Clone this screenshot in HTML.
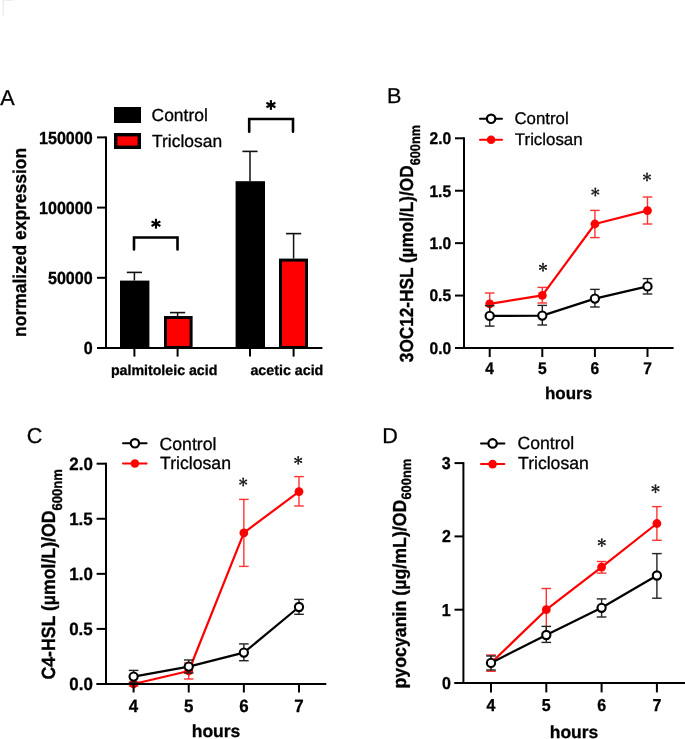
<!DOCTYPE html>
<html><head><meta charset="utf-8"><style>
html,body{margin:0;padding:0;background:#fff;}
svg{display:block;will-change:transform;}
text{font-family:"Liberation Sans",sans-serif;text-rendering:geometricPrecision;stroke:#000;stroke-width:0.3px;}
</style></head><body>
<svg width="685" height="739" viewBox="0 0 685 739" font-family="Liberation Sans, sans-serif">
<rect width="685" height="739" fill="#fff"/>
<line x1="3.20" y1="0.00" x2="3.20" y2="15.50" stroke="#e4e4e4" stroke-width="1.0" stroke-linecap="butt"/>
<line x1="3.20" y1="0.50" x2="13.50" y2="0.50" stroke="#eeeeee" stroke-width="1.0" stroke-linecap="butt"/>
<text x="0.21" y="104.80" font-size="21.60" font-weight="normal" fill="#000">A</text>
<rect x="114.00" y="107.00" width="27.00" height="16.00" fill="#000"/>
<rect x="115.70" y="134.70" width="23.60" height="12.60" fill="#ff0000" stroke="#000" stroke-width="3.4"/>
<text x="151.56" y="120.90" font-size="17.45" font-weight="normal" fill="#000">Control</text>
<text x="152.06" y="146.60" font-size="17.45" font-weight="normal" fill="#000">Triclosan</text>
<rect x="120.00" y="280.60" width="29.40" height="67.40" fill="#000"/>
<rect x="235.60" y="181.20" width="29.40" height="166.80" fill="#000"/>
<rect x="165.50" y="317.50" width="25.60" height="30.00" fill="#ff0000" stroke="#000" stroke-width="3.0"/>
<rect x="280.50" y="260.10" width="26.00" height="87.40" fill="#ff0000" stroke="#000" stroke-width="3.0"/>
<line x1="106.00" y1="136.40" x2="106.00" y2="349.00" stroke="#000" stroke-width="2" stroke-linecap="butt"/>
<line x1="97.00" y1="348.00" x2="322.40" y2="348.00" stroke="#000" stroke-width="2" stroke-linecap="butt"/>
<line x1="97.00" y1="277.80" x2="106.00" y2="277.80" stroke="#000" stroke-width="2" stroke-linecap="butt"/>
<line x1="97.00" y1="207.60" x2="106.00" y2="207.60" stroke="#000" stroke-width="2" stroke-linecap="butt"/>
<line x1="97.00" y1="137.40" x2="106.00" y2="137.40" stroke="#000" stroke-width="2" stroke-linecap="butt"/>
<line x1="134.40" y1="348.00" x2="134.40" y2="356.60" stroke="#000" stroke-width="2" stroke-linecap="butt"/>
<line x1="177.60" y1="348.00" x2="177.60" y2="356.60" stroke="#000" stroke-width="2" stroke-linecap="butt"/>
<line x1="250.00" y1="348.00" x2="250.00" y2="356.60" stroke="#000" stroke-width="2" stroke-linecap="butt"/>
<line x1="293.60" y1="348.00" x2="293.60" y2="356.60" stroke="#000" stroke-width="2" stroke-linecap="butt"/>
<text transform="translate(83.76,354.20) scale(1,1.090)" x="0" y="0" font-size="16.10" font-weight="bold" fill="#000">0</text>
<text transform="translate(47.94,284.00) scale(1,1.090)" x="0" y="0" font-size="16.10" font-weight="bold" fill="#000">50000</text>
<text transform="translate(38.99,213.80) scale(1,1.090)" x="0" y="0" font-size="16.10" font-weight="bold" fill="#000">100000</text>
<text transform="translate(38.99,143.60) scale(1,1.090)" x="0" y="0" font-size="16.10" font-weight="bold" fill="#000">150000</text>
<line x1="134.40" y1="280.60" x2="134.40" y2="272.40" stroke="#111" stroke-width="1.5" stroke-linecap="butt"/>
<line x1="126.80" y1="272.40" x2="142.00" y2="272.40" stroke="#111" stroke-width="1.6" stroke-linecap="butt"/>
<line x1="177.60" y1="316.00" x2="177.60" y2="312.60" stroke="#111" stroke-width="1.5" stroke-linecap="butt"/>
<line x1="170.00" y1="312.60" x2="185.20" y2="312.60" stroke="#111" stroke-width="1.6" stroke-linecap="butt"/>
<line x1="250.00" y1="181.20" x2="250.00" y2="151.40" stroke="#111" stroke-width="1.5" stroke-linecap="butt"/>
<line x1="242.40" y1="151.40" x2="257.60" y2="151.40" stroke="#111" stroke-width="1.6" stroke-linecap="butt"/>
<line x1="293.60" y1="258.60" x2="293.60" y2="233.60" stroke="#111" stroke-width="1.5" stroke-linecap="butt"/>
<line x1="286.00" y1="233.60" x2="301.20" y2="233.60" stroke="#111" stroke-width="1.6" stroke-linecap="butt"/>
<polyline points="134.00,249.50 134.00,237.50 177.50,237.50 177.50,249.50" fill="none" stroke="#000" stroke-width="2.6" stroke-linejoin="miter" stroke-linecap="round"/>
<polyline points="249.20,131.70 249.20,119.00 293.00,119.00 293.00,131.70" fill="none" stroke="#000" stroke-width="2.6" stroke-linejoin="miter" stroke-linecap="round"/>
<g stroke="#000" stroke-width="2.1" stroke-linecap="butt"><line x1="155.95" y1="218.75" x2="155.95" y2="228.65"/><line x1="151.54" y1="221.35" x2="160.36" y2="226.05"/><line x1="151.54" y1="226.05" x2="160.36" y2="221.35"/></g>
<g stroke="#000" stroke-width="2.1" stroke-linecap="butt"><line x1="270.90" y1="100.10" x2="270.90" y2="109.90"/><line x1="266.41" y1="102.81" x2="275.39" y2="107.19"/><line x1="266.41" y1="107.19" x2="275.39" y2="102.81"/></g>
<text x="110.91" y="374.80" font-size="14.20" font-weight="bold" fill="#000">palmitoleic acid</text>
<text x="250.43" y="375.20" font-size="14.25" font-weight="bold" fill="#000">acetic acid</text>
<text transform="translate(25.60,336.90) rotate(-90) scale(1,1.060)" x="0" y="0" font-weight="bold" font-size="17.45" fill="#000"><tspan font-size="17.45">normalized expression</tspan></text>
<text x="387.08" y="102.80" font-size="21.60" font-weight="normal" fill="#000">B</text>
<line x1="480.00" y1="118.80" x2="502.00" y2="118.80" stroke="#000" stroke-width="2.0" stroke-linecap="round"/>
<circle cx="491.10" cy="118.80" r="4.20" fill="#fff" stroke="#000" stroke-width="2.2"/>
<line x1="480.00" y1="139.80" x2="502.00" y2="139.80" stroke="#ff0000" stroke-width="2.0" stroke-linecap="round"/>
<circle cx="491.10" cy="139.80" r="4.30" fill="#ff0000"/>
<text x="514.39" y="124.40" font-size="16.85" font-weight="normal" fill="#000">Control</text>
<text x="514.87" y="145.00" font-size="16.85" font-weight="normal" fill="#000">Triclosan</text>
<line x1="489.70" y1="293.00" x2="489.70" y2="314.60" stroke="#ff3333" stroke-width="1.4" stroke-linecap="butt"/>
<line x1="484.90" y1="293.00" x2="494.50" y2="293.00" stroke="#ff3333" stroke-width="1.4" stroke-linecap="butt"/>
<line x1="484.90" y1="314.60" x2="494.50" y2="314.60" stroke="#ff3333" stroke-width="1.4" stroke-linecap="butt"/>
<line x1="542.30" y1="287.40" x2="542.30" y2="303.00" stroke="#ff3333" stroke-width="1.4" stroke-linecap="butt"/>
<line x1="537.50" y1="287.40" x2="547.10" y2="287.40" stroke="#ff3333" stroke-width="1.4" stroke-linecap="butt"/>
<line x1="537.50" y1="303.00" x2="547.10" y2="303.00" stroke="#ff3333" stroke-width="1.4" stroke-linecap="butt"/>
<line x1="594.90" y1="210.40" x2="594.90" y2="237.60" stroke="#ff3333" stroke-width="1.4" stroke-linecap="butt"/>
<line x1="590.10" y1="210.40" x2="599.70" y2="210.40" stroke="#ff3333" stroke-width="1.4" stroke-linecap="butt"/>
<line x1="590.10" y1="237.60" x2="599.70" y2="237.60" stroke="#ff3333" stroke-width="1.4" stroke-linecap="butt"/>
<line x1="647.50" y1="197.00" x2="647.50" y2="224.00" stroke="#ff3333" stroke-width="1.4" stroke-linecap="butt"/>
<line x1="642.70" y1="197.00" x2="652.30" y2="197.00" stroke="#ff3333" stroke-width="1.4" stroke-linecap="butt"/>
<line x1="642.70" y1="224.00" x2="652.30" y2="224.00" stroke="#ff3333" stroke-width="1.4" stroke-linecap="butt"/>
<polyline points="489.70,303.80 542.30,295.40 594.90,224.00 647.50,210.60" fill="none" stroke="#ff0000" stroke-width="2.2" stroke-linejoin="round" stroke-linecap="butt"/>
<circle cx="489.70" cy="303.80" r="4.40" fill="#ff0000"/>
<circle cx="542.30" cy="295.40" r="4.40" fill="#ff0000"/>
<circle cx="594.90" cy="224.00" r="4.40" fill="#ff0000"/>
<circle cx="647.50" cy="210.60" r="4.40" fill="#ff0000"/>
<line x1="489.70" y1="305.70" x2="489.70" y2="326.10" stroke="#222" stroke-width="1.4" stroke-linecap="butt"/>
<line x1="484.90" y1="305.70" x2="494.50" y2="305.70" stroke="#222" stroke-width="1.4" stroke-linecap="butt"/>
<line x1="484.90" y1="326.10" x2="494.50" y2="326.10" stroke="#222" stroke-width="1.4" stroke-linecap="butt"/>
<line x1="542.30" y1="305.40" x2="542.30" y2="325.00" stroke="#222" stroke-width="1.4" stroke-linecap="butt"/>
<line x1="537.50" y1="305.40" x2="547.10" y2="305.40" stroke="#222" stroke-width="1.4" stroke-linecap="butt"/>
<line x1="537.50" y1="325.00" x2="547.10" y2="325.00" stroke="#222" stroke-width="1.4" stroke-linecap="butt"/>
<line x1="594.90" y1="289.40" x2="594.90" y2="307.00" stroke="#222" stroke-width="1.4" stroke-linecap="butt"/>
<line x1="590.10" y1="289.40" x2="599.70" y2="289.40" stroke="#222" stroke-width="1.4" stroke-linecap="butt"/>
<line x1="590.10" y1="307.00" x2="599.70" y2="307.00" stroke="#222" stroke-width="1.4" stroke-linecap="butt"/>
<line x1="647.50" y1="278.60" x2="647.50" y2="294.00" stroke="#222" stroke-width="1.4" stroke-linecap="butt"/>
<line x1="642.70" y1="278.60" x2="652.30" y2="278.60" stroke="#222" stroke-width="1.4" stroke-linecap="butt"/>
<line x1="642.70" y1="294.00" x2="652.30" y2="294.00" stroke="#222" stroke-width="1.4" stroke-linecap="butt"/>
<polyline points="489.70,315.90 542.30,315.60 594.90,298.60 647.50,286.40" fill="none" stroke="#000" stroke-width="2.2" stroke-linejoin="round" stroke-linecap="butt"/>
<circle cx="489.70" cy="315.90" r="4.10" fill="#fff" stroke="#000" stroke-width="2.1"/>
<circle cx="542.30" cy="315.60" r="4.10" fill="#fff" stroke="#000" stroke-width="2.1"/>
<circle cx="594.90" cy="298.60" r="4.10" fill="#fff" stroke="#000" stroke-width="2.1"/>
<circle cx="647.50" cy="286.40" r="4.10" fill="#fff" stroke="#000" stroke-width="2.1"/>
<g><line x1="543.00" y1="267.30" x2="543.00" y2="263.83" stroke="#222" stroke-width="1.35"/><circle cx="543.00" cy="263.83" r="0.98" fill="#222"/><line x1="543.00" y1="267.30" x2="543.00" y2="270.77" stroke="#222" stroke-width="1.35"/><circle cx="543.00" cy="270.77" r="0.98" fill="#222"/><line x1="543.00" y1="267.30" x2="546.06" y2="265.67" stroke="#222" stroke-width="1.35"/><circle cx="546.06" cy="265.67" r="0.98" fill="#222"/><line x1="543.00" y1="267.30" x2="539.94" y2="265.67" stroke="#222" stroke-width="1.35"/><circle cx="539.94" cy="265.67" r="0.98" fill="#222"/><line x1="543.00" y1="267.30" x2="539.94" y2="268.93" stroke="#222" stroke-width="1.35"/><circle cx="539.94" cy="268.93" r="0.98" fill="#222"/><line x1="543.00" y1="267.30" x2="546.06" y2="268.93" stroke="#222" stroke-width="1.35"/><circle cx="546.06" cy="268.93" r="0.98" fill="#222"/></g>
<g><line x1="595.30" y1="192.00" x2="595.30" y2="188.53" stroke="#222" stroke-width="1.35"/><circle cx="595.30" cy="188.53" r="0.98" fill="#222"/><line x1="595.30" y1="192.00" x2="595.30" y2="195.47" stroke="#222" stroke-width="1.35"/><circle cx="595.30" cy="195.47" r="0.98" fill="#222"/><line x1="595.30" y1="192.00" x2="598.36" y2="190.37" stroke="#222" stroke-width="1.35"/><circle cx="598.36" cy="190.37" r="0.98" fill="#222"/><line x1="595.30" y1="192.00" x2="592.24" y2="190.37" stroke="#222" stroke-width="1.35"/><circle cx="592.24" cy="190.37" r="0.98" fill="#222"/><line x1="595.30" y1="192.00" x2="592.24" y2="193.63" stroke="#222" stroke-width="1.35"/><circle cx="592.24" cy="193.63" r="0.98" fill="#222"/><line x1="595.30" y1="192.00" x2="598.36" y2="193.63" stroke="#222" stroke-width="1.35"/><circle cx="598.36" cy="193.63" r="0.98" fill="#222"/></g>
<g><line x1="647.00" y1="177.00" x2="647.00" y2="173.53" stroke="#222" stroke-width="1.35"/><circle cx="647.00" cy="173.53" r="0.98" fill="#222"/><line x1="647.00" y1="177.00" x2="647.00" y2="180.47" stroke="#222" stroke-width="1.35"/><circle cx="647.00" cy="180.47" r="0.98" fill="#222"/><line x1="647.00" y1="177.00" x2="650.06" y2="175.37" stroke="#222" stroke-width="1.35"/><circle cx="650.06" cy="175.37" r="0.98" fill="#222"/><line x1="647.00" y1="177.00" x2="643.94" y2="175.37" stroke="#222" stroke-width="1.35"/><circle cx="643.94" cy="175.37" r="0.98" fill="#222"/><line x1="647.00" y1="177.00" x2="643.94" y2="178.63" stroke="#222" stroke-width="1.35"/><circle cx="643.94" cy="178.63" r="0.98" fill="#222"/><line x1="647.00" y1="177.00" x2="650.06" y2="178.63" stroke="#222" stroke-width="1.35"/><circle cx="650.06" cy="178.63" r="0.98" fill="#222"/></g>
<line x1="464.00" y1="137.30" x2="464.00" y2="349.00" stroke="#000" stroke-width="2" stroke-linecap="butt"/>
<line x1="455.00" y1="348.00" x2="673.60" y2="348.00" stroke="#000" stroke-width="2" stroke-linecap="butt"/>
<line x1="455.00" y1="348.00" x2="464.00" y2="348.00" stroke="#000" stroke-width="2" stroke-linecap="butt"/>
<line x1="455.00" y1="295.57" x2="464.00" y2="295.57" stroke="#000" stroke-width="2" stroke-linecap="butt"/>
<line x1="455.00" y1="243.15" x2="464.00" y2="243.15" stroke="#000" stroke-width="2" stroke-linecap="butt"/>
<line x1="455.00" y1="190.73" x2="464.00" y2="190.73" stroke="#000" stroke-width="2" stroke-linecap="butt"/>
<line x1="455.00" y1="138.30" x2="464.00" y2="138.30" stroke="#000" stroke-width="2" stroke-linecap="butt"/>
<line x1="489.70" y1="348.00" x2="489.70" y2="357.00" stroke="#000" stroke-width="2" stroke-linecap="butt"/>
<line x1="542.30" y1="348.00" x2="542.30" y2="357.00" stroke="#000" stroke-width="2" stroke-linecap="butt"/>
<line x1="594.90" y1="348.00" x2="594.90" y2="357.00" stroke="#000" stroke-width="2" stroke-linecap="butt"/>
<line x1="647.50" y1="348.00" x2="647.50" y2="357.00" stroke="#000" stroke-width="2" stroke-linecap="butt"/>
<text transform="translate(429.60,353.88) scale(1,1.080)" x="0" y="0" font-size="15.60" font-weight="bold" fill="#000">0.0</text>
<text transform="translate(429.40,301.45) scale(1,1.080)" x="0" y="0" font-size="15.60" font-weight="bold" fill="#000">0.5</text>
<text transform="translate(429.60,249.03) scale(1,1.080)" x="0" y="0" font-size="15.60" font-weight="bold" fill="#000">1.0</text>
<text transform="translate(429.40,196.60) scale(1,1.080)" x="0" y="0" font-size="15.60" font-weight="bold" fill="#000">1.5</text>
<text transform="translate(429.60,144.18) scale(1,1.080)" x="0" y="0" font-size="15.60" font-weight="bold" fill="#000">2.0</text>
<text transform="translate(485.29,374.40) scale(1,1.080)" x="0" y="0" font-size="15.60" font-weight="bold" fill="#000">4</text>
<text transform="translate(537.94,374.40) scale(1,1.080)" x="0" y="0" font-size="15.60" font-weight="bold" fill="#000">5</text>
<text transform="translate(590.56,374.40) scale(1,1.080)" x="0" y="0" font-size="15.60" font-weight="bold" fill="#000">6</text>
<text transform="translate(643.17,374.40) scale(1,1.080)" x="0" y="0" font-size="15.60" font-weight="bold" fill="#000">7</text>
<text x="544.94" y="398.60" font-size="17.00" font-weight="bold" fill="#000">hours</text>
<text transform="translate(413.40,362.14) rotate(-90) scale(1,1.100)" x="0" y="0" font-weight="bold" font-size="17.20" fill="#000"><tspan font-size="17.20">3OC12-HSL (µmol/L)/OD</tspan><tspan font-size="12.76" dy="6.30">600nm</tspan></text>
<text x="26.75" y="442.50" font-size="21.60" font-weight="normal" fill="#000">C</text>
<line x1="123.00" y1="443.30" x2="146.60" y2="443.30" stroke="#000" stroke-width="2.0" stroke-linecap="round"/>
<circle cx="134.90" cy="443.30" r="4.20" fill="#fff" stroke="#000" stroke-width="2.2"/>
<line x1="123.00" y1="463.50" x2="146.60" y2="463.50" stroke="#ff0000" stroke-width="2.0" stroke-linecap="round"/>
<circle cx="134.90" cy="463.50" r="4.30" fill="#ff0000"/>
<text x="159.55" y="449.80" font-size="17.65" font-weight="normal" fill="#000">Control</text>
<text x="160.05" y="469.40" font-size="17.65" font-weight="normal" fill="#000">Triclosan</text>
<line x1="133.60" y1="682.00" x2="133.60" y2="686.00" stroke="#ff3333" stroke-width="1.4" stroke-linecap="butt"/>
<line x1="128.80" y1="682.00" x2="138.40" y2="682.00" stroke="#ff3333" stroke-width="1.4" stroke-linecap="butt"/>
<line x1="128.80" y1="686.00" x2="138.40" y2="686.00" stroke="#ff3333" stroke-width="1.4" stroke-linecap="butt"/>
<line x1="188.73" y1="663.00" x2="188.73" y2="679.00" stroke="#ff3333" stroke-width="1.4" stroke-linecap="butt"/>
<line x1="183.93" y1="663.00" x2="193.53" y2="663.00" stroke="#ff3333" stroke-width="1.4" stroke-linecap="butt"/>
<line x1="183.93" y1="679.00" x2="193.53" y2="679.00" stroke="#ff3333" stroke-width="1.4" stroke-linecap="butt"/>
<line x1="243.86" y1="499.40" x2="243.86" y2="566.40" stroke="#ff3333" stroke-width="1.4" stroke-linecap="butt"/>
<line x1="239.06" y1="499.40" x2="248.66" y2="499.40" stroke="#ff3333" stroke-width="1.4" stroke-linecap="butt"/>
<line x1="239.06" y1="566.40" x2="248.66" y2="566.40" stroke="#ff3333" stroke-width="1.4" stroke-linecap="butt"/>
<line x1="298.99" y1="476.60" x2="298.99" y2="506.00" stroke="#ff3333" stroke-width="1.4" stroke-linecap="butt"/>
<line x1="294.19" y1="476.60" x2="303.79" y2="476.60" stroke="#ff3333" stroke-width="1.4" stroke-linecap="butt"/>
<line x1="294.19" y1="506.00" x2="303.79" y2="506.00" stroke="#ff3333" stroke-width="1.4" stroke-linecap="butt"/>
<polyline points="133.60,684.00 188.73,671.00 243.86,532.80 298.99,491.60" fill="none" stroke="#ff0000" stroke-width="2.2" stroke-linejoin="round" stroke-linecap="butt"/>
<circle cx="133.60" cy="684.00" r="4.40" fill="#ff0000"/>
<circle cx="188.73" cy="671.00" r="4.40" fill="#ff0000"/>
<circle cx="243.86" cy="532.80" r="4.40" fill="#ff0000"/>
<circle cx="298.99" cy="491.60" r="4.40" fill="#ff0000"/>
<line x1="133.60" y1="670.40" x2="133.60" y2="682.80" stroke="#222" stroke-width="1.4" stroke-linecap="butt"/>
<line x1="128.80" y1="670.40" x2="138.40" y2="670.40" stroke="#222" stroke-width="1.4" stroke-linecap="butt"/>
<line x1="128.80" y1="682.80" x2="138.40" y2="682.80" stroke="#222" stroke-width="1.4" stroke-linecap="butt"/>
<line x1="188.73" y1="660.00" x2="188.73" y2="673.00" stroke="#222" stroke-width="1.4" stroke-linecap="butt"/>
<line x1="183.93" y1="660.00" x2="193.53" y2="660.00" stroke="#222" stroke-width="1.4" stroke-linecap="butt"/>
<line x1="183.93" y1="673.00" x2="193.53" y2="673.00" stroke="#222" stroke-width="1.4" stroke-linecap="butt"/>
<line x1="243.86" y1="643.90" x2="243.86" y2="660.70" stroke="#222" stroke-width="1.4" stroke-linecap="butt"/>
<line x1="239.06" y1="643.90" x2="248.66" y2="643.90" stroke="#222" stroke-width="1.4" stroke-linecap="butt"/>
<line x1="239.06" y1="660.70" x2="248.66" y2="660.70" stroke="#222" stroke-width="1.4" stroke-linecap="butt"/>
<line x1="298.99" y1="599.40" x2="298.99" y2="614.30" stroke="#222" stroke-width="1.4" stroke-linecap="butt"/>
<line x1="294.19" y1="599.40" x2="303.79" y2="599.40" stroke="#222" stroke-width="1.4" stroke-linecap="butt"/>
<line x1="294.19" y1="614.30" x2="303.79" y2="614.30" stroke="#222" stroke-width="1.4" stroke-linecap="butt"/>
<polyline points="133.60,676.60 188.73,666.60 243.86,652.60 298.99,607.00" fill="none" stroke="#000" stroke-width="2.2" stroke-linejoin="round" stroke-linecap="butt"/>
<circle cx="133.60" cy="676.60" r="4.10" fill="#fff" stroke="#000" stroke-width="2.1"/>
<circle cx="188.73" cy="666.60" r="4.10" fill="#fff" stroke="#000" stroke-width="2.1"/>
<circle cx="243.86" cy="652.60" r="4.10" fill="#fff" stroke="#000" stroke-width="2.1"/>
<circle cx="298.99" cy="607.00" r="4.10" fill="#fff" stroke="#000" stroke-width="2.1"/>
<g><line x1="243.20" y1="482.00" x2="243.20" y2="478.53" stroke="#222" stroke-width="1.35"/><circle cx="243.20" cy="478.53" r="0.98" fill="#222"/><line x1="243.20" y1="482.00" x2="243.20" y2="485.47" stroke="#222" stroke-width="1.35"/><circle cx="243.20" cy="485.47" r="0.98" fill="#222"/><line x1="243.20" y1="482.00" x2="246.26" y2="480.37" stroke="#222" stroke-width="1.35"/><circle cx="246.26" cy="480.37" r="0.98" fill="#222"/><line x1="243.20" y1="482.00" x2="240.14" y2="480.37" stroke="#222" stroke-width="1.35"/><circle cx="240.14" cy="480.37" r="0.98" fill="#222"/><line x1="243.20" y1="482.00" x2="240.14" y2="483.63" stroke="#222" stroke-width="1.35"/><circle cx="240.14" cy="483.63" r="0.98" fill="#222"/><line x1="243.20" y1="482.00" x2="246.26" y2="483.63" stroke="#222" stroke-width="1.35"/><circle cx="246.26" cy="483.63" r="0.98" fill="#222"/></g>
<g><line x1="298.20" y1="460.40" x2="298.20" y2="456.93" stroke="#222" stroke-width="1.35"/><circle cx="298.20" cy="456.93" r="0.98" fill="#222"/><line x1="298.20" y1="460.40" x2="298.20" y2="463.87" stroke="#222" stroke-width="1.35"/><circle cx="298.20" cy="463.87" r="0.98" fill="#222"/><line x1="298.20" y1="460.40" x2="301.26" y2="458.77" stroke="#222" stroke-width="1.35"/><circle cx="301.26" cy="458.77" r="0.98" fill="#222"/><line x1="298.20" y1="460.40" x2="295.14" y2="458.77" stroke="#222" stroke-width="1.35"/><circle cx="295.14" cy="458.77" r="0.98" fill="#222"/><line x1="298.20" y1="460.40" x2="295.14" y2="462.03" stroke="#222" stroke-width="1.35"/><circle cx="295.14" cy="462.03" r="0.98" fill="#222"/><line x1="298.20" y1="460.40" x2="301.26" y2="462.03" stroke="#222" stroke-width="1.35"/><circle cx="301.26" cy="462.03" r="0.98" fill="#222"/></g>
<line x1="106.00" y1="462.70" x2="106.00" y2="685.00" stroke="#000" stroke-width="2" stroke-linecap="butt"/>
<line x1="96.60" y1="684.00" x2="326.30" y2="684.00" stroke="#000" stroke-width="2" stroke-linecap="butt"/>
<line x1="96.60" y1="684.00" x2="106.00" y2="684.00" stroke="#000" stroke-width="2" stroke-linecap="butt"/>
<line x1="96.60" y1="628.92" x2="106.00" y2="628.92" stroke="#000" stroke-width="2" stroke-linecap="butt"/>
<line x1="96.60" y1="573.85" x2="106.00" y2="573.85" stroke="#000" stroke-width="2" stroke-linecap="butt"/>
<line x1="96.60" y1="518.77" x2="106.00" y2="518.77" stroke="#000" stroke-width="2" stroke-linecap="butt"/>
<line x1="96.60" y1="463.70" x2="106.00" y2="463.70" stroke="#000" stroke-width="2" stroke-linecap="butt"/>
<line x1="133.60" y1="684.00" x2="133.60" y2="692.50" stroke="#000" stroke-width="2" stroke-linecap="butt"/>
<line x1="188.73" y1="684.00" x2="188.73" y2="692.50" stroke="#000" stroke-width="2" stroke-linecap="butt"/>
<line x1="243.86" y1="684.00" x2="243.86" y2="692.50" stroke="#000" stroke-width="2" stroke-linecap="butt"/>
<line x1="298.99" y1="684.00" x2="298.99" y2="692.50" stroke="#000" stroke-width="2" stroke-linecap="butt"/>
<text transform="translate(69.35,690.19) scale(1,1.050)" x="0" y="0" font-size="16.90" font-weight="bold" fill="#000">0.0</text>
<text transform="translate(69.13,635.12) scale(1,1.050)" x="0" y="0" font-size="16.90" font-weight="bold" fill="#000">0.5</text>
<text transform="translate(69.35,580.04) scale(1,1.050)" x="0" y="0" font-size="16.90" font-weight="bold" fill="#000">1.0</text>
<text transform="translate(69.13,524.97) scale(1,1.050)" x="0" y="0" font-size="16.90" font-weight="bold" fill="#000">1.5</text>
<text transform="translate(69.35,469.89) scale(1,1.050)" x="0" y="0" font-size="16.90" font-weight="bold" fill="#000">2.0</text>
<text transform="translate(128.82,711.60) scale(1,1.050)" x="0" y="0" font-size="16.90" font-weight="bold" fill="#000">4</text>
<text transform="translate(184.01,711.60) scale(1,1.050)" x="0" y="0" font-size="16.90" font-weight="bold" fill="#000">5</text>
<text transform="translate(239.16,711.60) scale(1,1.050)" x="0" y="0" font-size="16.90" font-weight="bold" fill="#000">6</text>
<text transform="translate(294.30,711.60) scale(1,1.050)" x="0" y="0" font-size="16.90" font-weight="bold" fill="#000">7</text>
<text x="191.74" y="736.80" font-size="17.50" font-weight="bold" fill="#000">hours</text>
<text transform="translate(55.00,679.58) rotate(-90) scale(1,1.080)" x="0" y="0" font-weight="bold" font-size="17.70" fill="#000"><tspan font-size="17.70">C4-HSL (µmol/L)/OD</tspan><tspan font-size="13.10" dy="6.60">600nm</tspan></text>
<text x="382.18" y="442.80" font-size="21.60" font-weight="normal" fill="#000">D</text>
<line x1="481.00" y1="443.40" x2="504.40" y2="443.40" stroke="#000" stroke-width="2.0" stroke-linecap="round"/>
<circle cx="492.60" cy="443.40" r="4.20" fill="#fff" stroke="#000" stroke-width="2.2"/>
<line x1="481.00" y1="464.10" x2="504.40" y2="464.10" stroke="#ff0000" stroke-width="2.0" stroke-linecap="round"/>
<circle cx="492.60" cy="464.10" r="4.30" fill="#ff0000"/>
<text x="517.56" y="449.40" font-size="17.60" font-weight="normal" fill="#000">Control</text>
<text x="518.05" y="469.40" font-size="17.60" font-weight="normal" fill="#000">Triclosan</text>
<line x1="491.00" y1="655.00" x2="491.00" y2="671.30" stroke="#ff3333" stroke-width="1.4" stroke-linecap="butt"/>
<line x1="486.20" y1="655.00" x2="495.80" y2="655.00" stroke="#ff3333" stroke-width="1.4" stroke-linecap="butt"/>
<line x1="486.20" y1="671.30" x2="495.80" y2="671.30" stroke="#ff3333" stroke-width="1.4" stroke-linecap="butt"/>
<line x1="546.30" y1="588.50" x2="546.30" y2="633.50" stroke="#ff3333" stroke-width="1.4" stroke-linecap="butt"/>
<line x1="541.50" y1="588.50" x2="551.10" y2="588.50" stroke="#ff3333" stroke-width="1.4" stroke-linecap="butt"/>
<line x1="541.50" y1="633.50" x2="551.10" y2="633.50" stroke="#ff3333" stroke-width="1.4" stroke-linecap="butt"/>
<line x1="601.60" y1="561.50" x2="601.60" y2="573.10" stroke="#ff3333" stroke-width="1.4" stroke-linecap="butt"/>
<line x1="596.80" y1="561.50" x2="606.40" y2="561.50" stroke="#ff3333" stroke-width="1.4" stroke-linecap="butt"/>
<line x1="596.80" y1="573.10" x2="606.40" y2="573.10" stroke="#ff3333" stroke-width="1.4" stroke-linecap="butt"/>
<line x1="656.90" y1="506.60" x2="656.90" y2="540.30" stroke="#ff3333" stroke-width="1.4" stroke-linecap="butt"/>
<line x1="652.10" y1="506.60" x2="661.70" y2="506.60" stroke="#ff3333" stroke-width="1.4" stroke-linecap="butt"/>
<line x1="652.10" y1="540.30" x2="661.70" y2="540.30" stroke="#ff3333" stroke-width="1.4" stroke-linecap="butt"/>
<polyline points="491.00,663.00 546.30,609.70 601.60,567.10 656.90,523.50" fill="none" stroke="#ff0000" stroke-width="2.2" stroke-linejoin="round" stroke-linecap="butt"/>
<circle cx="491.00" cy="663.00" r="4.40" fill="#ff0000"/>
<circle cx="546.30" cy="609.70" r="4.40" fill="#ff0000"/>
<circle cx="601.60" cy="567.10" r="4.40" fill="#ff0000"/>
<circle cx="656.90" cy="523.50" r="4.40" fill="#ff0000"/>
<line x1="491.00" y1="656.00" x2="491.00" y2="670.00" stroke="#222" stroke-width="1.4" stroke-linecap="butt"/>
<line x1="486.20" y1="656.00" x2="495.80" y2="656.00" stroke="#222" stroke-width="1.4" stroke-linecap="butt"/>
<line x1="486.20" y1="670.00" x2="495.80" y2="670.00" stroke="#222" stroke-width="1.4" stroke-linecap="butt"/>
<line x1="546.30" y1="626.40" x2="546.30" y2="642.40" stroke="#222" stroke-width="1.4" stroke-linecap="butt"/>
<line x1="541.50" y1="626.40" x2="551.10" y2="626.40" stroke="#222" stroke-width="1.4" stroke-linecap="butt"/>
<line x1="541.50" y1="642.40" x2="551.10" y2="642.40" stroke="#222" stroke-width="1.4" stroke-linecap="butt"/>
<line x1="601.60" y1="598.90" x2="601.60" y2="617.00" stroke="#222" stroke-width="1.4" stroke-linecap="butt"/>
<line x1="596.80" y1="598.90" x2="606.40" y2="598.90" stroke="#222" stroke-width="1.4" stroke-linecap="butt"/>
<line x1="596.80" y1="617.00" x2="606.40" y2="617.00" stroke="#222" stroke-width="1.4" stroke-linecap="butt"/>
<line x1="656.90" y1="553.60" x2="656.90" y2="598.20" stroke="#222" stroke-width="1.4" stroke-linecap="butt"/>
<line x1="652.10" y1="553.60" x2="661.70" y2="553.60" stroke="#222" stroke-width="1.4" stroke-linecap="butt"/>
<line x1="652.10" y1="598.20" x2="661.70" y2="598.20" stroke="#222" stroke-width="1.4" stroke-linecap="butt"/>
<polyline points="491.00,662.90 546.30,635.00 601.60,607.80 656.90,575.50" fill="none" stroke="#000" stroke-width="2.2" stroke-linejoin="round" stroke-linecap="butt"/>
<circle cx="491.00" cy="662.90" r="4.10" fill="#fff" stroke="#000" stroke-width="2.1"/>
<circle cx="546.30" cy="635.00" r="4.10" fill="#fff" stroke="#000" stroke-width="2.1"/>
<circle cx="601.60" cy="607.80" r="4.10" fill="#fff" stroke="#000" stroke-width="2.1"/>
<circle cx="656.90" cy="575.50" r="4.10" fill="#fff" stroke="#000" stroke-width="2.1"/>
<g><line x1="601.80" y1="542.60" x2="601.80" y2="539.13" stroke="#222" stroke-width="1.35"/><circle cx="601.80" cy="539.13" r="0.98" fill="#222"/><line x1="601.80" y1="542.60" x2="601.80" y2="546.07" stroke="#222" stroke-width="1.35"/><circle cx="601.80" cy="546.07" r="0.98" fill="#222"/><line x1="601.80" y1="542.60" x2="604.86" y2="540.97" stroke="#222" stroke-width="1.35"/><circle cx="604.86" cy="540.97" r="0.98" fill="#222"/><line x1="601.80" y1="542.60" x2="598.74" y2="540.97" stroke="#222" stroke-width="1.35"/><circle cx="598.74" cy="540.97" r="0.98" fill="#222"/><line x1="601.80" y1="542.60" x2="598.74" y2="544.23" stroke="#222" stroke-width="1.35"/><circle cx="598.74" cy="544.23" r="0.98" fill="#222"/><line x1="601.80" y1="542.60" x2="604.86" y2="544.23" stroke="#222" stroke-width="1.35"/><circle cx="604.86" cy="544.23" r="0.98" fill="#222"/></g>
<g><line x1="655.50" y1="488.70" x2="655.50" y2="485.23" stroke="#222" stroke-width="1.35"/><circle cx="655.50" cy="485.23" r="0.98" fill="#222"/><line x1="655.50" y1="488.70" x2="655.50" y2="492.17" stroke="#222" stroke-width="1.35"/><circle cx="655.50" cy="492.17" r="0.98" fill="#222"/><line x1="655.50" y1="488.70" x2="658.56" y2="487.07" stroke="#222" stroke-width="1.35"/><circle cx="658.56" cy="487.07" r="0.98" fill="#222"/><line x1="655.50" y1="488.70" x2="652.44" y2="487.07" stroke="#222" stroke-width="1.35"/><circle cx="652.44" cy="487.07" r="0.98" fill="#222"/><line x1="655.50" y1="488.70" x2="652.44" y2="490.33" stroke="#222" stroke-width="1.35"/><circle cx="652.44" cy="490.33" r="0.98" fill="#222"/><line x1="655.50" y1="488.70" x2="658.56" y2="490.33" stroke="#222" stroke-width="1.35"/><circle cx="658.56" cy="490.33" r="0.98" fill="#222"/></g>
<line x1="463.40" y1="462.10" x2="463.40" y2="684.00" stroke="#000" stroke-width="2" stroke-linecap="butt"/>
<line x1="454.50" y1="683.00" x2="685.00" y2="683.00" stroke="#000" stroke-width="2" stroke-linecap="butt"/>
<line x1="454.50" y1="683.00" x2="463.40" y2="683.00" stroke="#000" stroke-width="2" stroke-linecap="butt"/>
<line x1="454.50" y1="609.70" x2="463.40" y2="609.70" stroke="#000" stroke-width="2" stroke-linecap="butt"/>
<line x1="454.50" y1="536.40" x2="463.40" y2="536.40" stroke="#000" stroke-width="2" stroke-linecap="butt"/>
<line x1="454.50" y1="463.10" x2="463.40" y2="463.10" stroke="#000" stroke-width="2" stroke-linecap="butt"/>
<line x1="491.00" y1="683.00" x2="491.00" y2="692.40" stroke="#000" stroke-width="2" stroke-linecap="butt"/>
<line x1="546.30" y1="683.00" x2="546.30" y2="692.40" stroke="#000" stroke-width="2" stroke-linecap="butt"/>
<line x1="601.60" y1="683.00" x2="601.60" y2="692.40" stroke="#000" stroke-width="2" stroke-linecap="butt"/>
<line x1="656.90" y1="683.00" x2="656.90" y2="692.40" stroke="#000" stroke-width="2" stroke-linecap="butt"/>
<text transform="translate(441.91,689.03) scale(1,1.080)" x="0" y="0" font-size="16.00" font-weight="bold" fill="#000">0</text>
<text transform="translate(441.70,615.73) scale(1,1.080)" x="0" y="0" font-size="16.00" font-weight="bold" fill="#000">1</text>
<text transform="translate(441.89,542.43) scale(1,1.080)" x="0" y="0" font-size="16.00" font-weight="bold" fill="#000">2</text>
<text transform="translate(441.83,469.13) scale(1,1.080)" x="0" y="0" font-size="16.00" font-weight="bold" fill="#000">3</text>
<text transform="translate(486.47,711.20) scale(1,1.080)" x="0" y="0" font-size="16.00" font-weight="bold" fill="#000">4</text>
<text transform="translate(541.83,711.20) scale(1,1.080)" x="0" y="0" font-size="16.00" font-weight="bold" fill="#000">5</text>
<text transform="translate(597.15,711.20) scale(1,1.080)" x="0" y="0" font-size="16.00" font-weight="bold" fill="#000">6</text>
<text transform="translate(652.46,711.20) scale(1,1.080)" x="0" y="0" font-size="16.00" font-weight="bold" fill="#000">7</text>
<text x="549.74" y="737.60" font-size="17.50" font-weight="bold" fill="#000">hours</text>
<text transform="translate(405.50,688.62) rotate(-90) scale(1,1.060)" x="0" y="0" font-weight="bold" font-size="17.80" fill="#000"><tspan font-size="17.80">pyocyanin (µg/mL)/OD</tspan><tspan font-size="12.90" dy="5.00">600nm</tspan></text>
</svg>
</body></html>
